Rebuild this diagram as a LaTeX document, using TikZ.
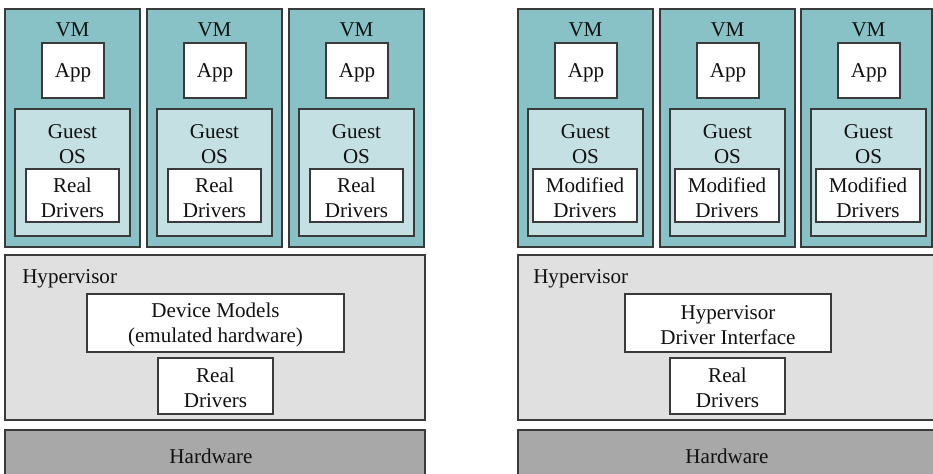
\documentclass[tikz,border=0pt]{standalone}
\usepackage{fontspec}
\setmainfont{Liberation Serif}
\usetikzlibrary{fit}
\definecolor{vmfill}{HTML}{88C2C7}
\definecolor{osfill}{HTML}{C5E0E3}
\definecolor{hvfill}{HTML}{E0E0E0}
\definecolor{hwfill}{HTML}{A8A8A8}
\definecolor{edge}{HTML}{3A3A3A}
\definecolor{ink}{HTML}{111111}
\newcommand\vmgroup[6]{%
  \node[box, fill=vmfill, fit={(#2,9) ({#2+#6},247)}] (#1) {};
  \node[txt] (#1-t) at ({#2+67.5},28) {VM};
  \node[box, fill=white, fit={({#2+37},43) ({#2+99},98)}] (#1-app) {};
  \node[txt] (#1-appt) at (#1-app.center) {App};
  \node[box, fill=osfill, fit={({#2+10},109) ({#2+125},236)}] (#1-os) {};
  \node[txt] (#1-ost) at ({#2+67.5},142.5) {Guest\\OS};
  \node[box, fill=white, fit={({#2+#4},169) ({#2+#5},222)}] (#1-drv) {};
  \node[txt] (#1-drvt) at (#1-drv.center) {#3\\Drivers};
}
\begin{document}
\begin{tikzpicture}[x=0.75pt,y=-0.75pt,
  box/.style={draw=edge, line width=1pt, inner sep=0pt, outer sep=0pt},
  txt/.style={font=\fontsize{15.8}{18.75}\selectfont, text=ink, align=center, inner sep=0pt, yshift=-1.5pt}]
\useasboundingbox (0,0) rectangle (933,474);
\clip (0,0) rectangle (933,474);
% left side
\vmgroup{lvm1}{5}{Real}{21}{114}{135}
\vmgroup{lvm2}{147}{Real}{21}{114}{135}
\vmgroup{lvm3}{289}{Real}{21}{114}{135}
\node[box, fill=hvfill, fit={(5,255) (425,420)}] (lhv) {};
\node[txt, anchor=west] (lhvt) at (22,277) {Hypervisor};
\node[box, fill=white, fit={(87,294) (344,352)}] (ldm) {};
\node[txt] (ldmt) at (ldm.center) {Device Models\\(emulated hardware)};
\node[box, fill=white, fit={(158,358) (273,414)}] (lrd) {};
\node[txt] (lrdt) at (lrd.center) {Real\\Drivers};
\node[box, fill=hwfill, fit={(5,430) (425,485)}] (lhw) {};
\node[txt] (lhwt) at (211,454) {Hardware};
% right side
\vmgroup{rvm1}{518}{Modified}{15}{119}{135}
\vmgroup{rvm2}{660}{Modified}{15}{119}{135}
\vmgroup{rvm3}{801}{Modified}{15}{119}{131}
\node[box, fill=hvfill, fit={(518,255) (940,420)}] (rhv) {};
\node[txt, anchor=west] (rhvt) at (533,277) {Hypervisor};
\node[box, fill=white, fit={(625,294) (831,352)}] (rdi) {};
\node[txt] (rdit) at (rdi.center) {Hypervisor\\Driver Interface};
\node[box, fill=white, fit={(670,358) (785,414)}] (rrd) {};
\node[txt] (rrdt) at (rrd.center) {Real\\Drivers};
\node[box, fill=hwfill, fit={(518,430) (940,485)}] (rhw) {};
\node[txt] (rhwt) at (727,454) {Hardware};
\end{tikzpicture}
\end{document}
